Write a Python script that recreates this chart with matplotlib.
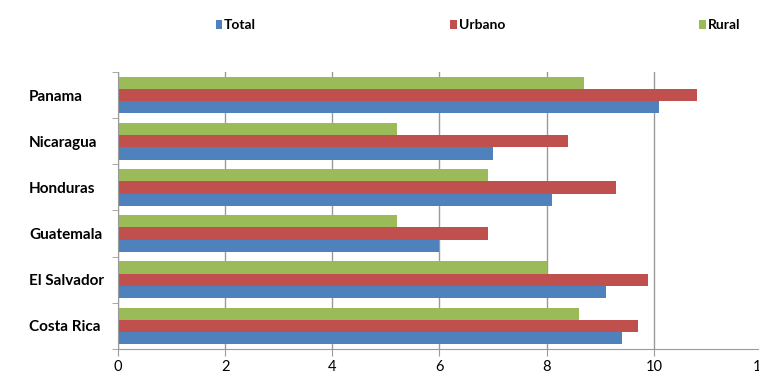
import matplotlib.pyplot as plt
import numpy as np

paises = ['Costa Rica', 'El Salvador', 'Guatemala', 'Honduras', 'Nicaragua', 'Panama']
total = [9.4, 9.1, 6.0, 8.1, 7.0, 10.1]
urbano = [9.7, 9.9, 6.9, 9.3, 8.4, 10.8]
rural = [8.6, 8.0, 5.2, 6.9, 5.2, 8.7]

c_total = '#4F81BD'
c_urbano = '#C0504D'
c_rural = '#9BBB59'
gris = '#9A9A9A'

plt.rcParams['font.family'] = ['Lato', 'DejaVu Sans']

fig = plt.figure(figsize=(7.59, 3.71), dpi=100)
ax = fig.add_axes([118 / 759, 1 - 349 / 371, (761 - 118) / 759, (349 - 72) / 371])

y = np.arange(len(paises))
h = 0.265
b1 = ax.barh(y - h, total, height=h, color=c_total, linewidth=0, label='Total')
b2 = ax.barh(y, urbano, height=h, color=c_urbano, linewidth=0, label='Urbano')
b3 = ax.barh(y + h, rural, height=h, color=c_rural, linewidth=0, label='Rural')

ax.set_xlim(0, 12)
ax.set_ylim(-0.5, len(paises) - 0.5)
ax.set_xticks(np.arange(0, 13, 2))
ax.xaxis.grid(True, color=gris, linewidth=1)
ax.set_axisbelow(True)

# etiquetas de categoria alineadas a la izquierda, marcas en los limites de grupo
ax.set_yticks(y)
ax.set_yticklabels(paises, fontsize=11, fontweight='bold', ha='left')
ax.tick_params(axis='y', length=0, pad=89 * 72 / 100)
ax.set_yticks(np.arange(-0.5, len(paises), 1), minor=True)
ax.tick_params(axis='y', which='minor', length=4, color=gris, direction='out')
ax.tick_params(axis='x', length=5, color=gris, labelsize=10.5, pad=3)

for s in ['top', 'right']:
    ax.spines[s].set_visible(False)
for s in ['left', 'bottom']:
    ax.spines[s].set_color(gris)

fig.legend(handles=[b1, b2, b3], loc='center left', bbox_to_anchor=(203 / 759, 1 - 25 / 371),
           ncol=3, frameon=False, handlelength=0.45, handleheight=0.6, handletextpad=0.15,
           columnspacing=14.0, prop={'weight': 'bold', 'size': 10})

plt.savefig('out.png', dpi=100)
